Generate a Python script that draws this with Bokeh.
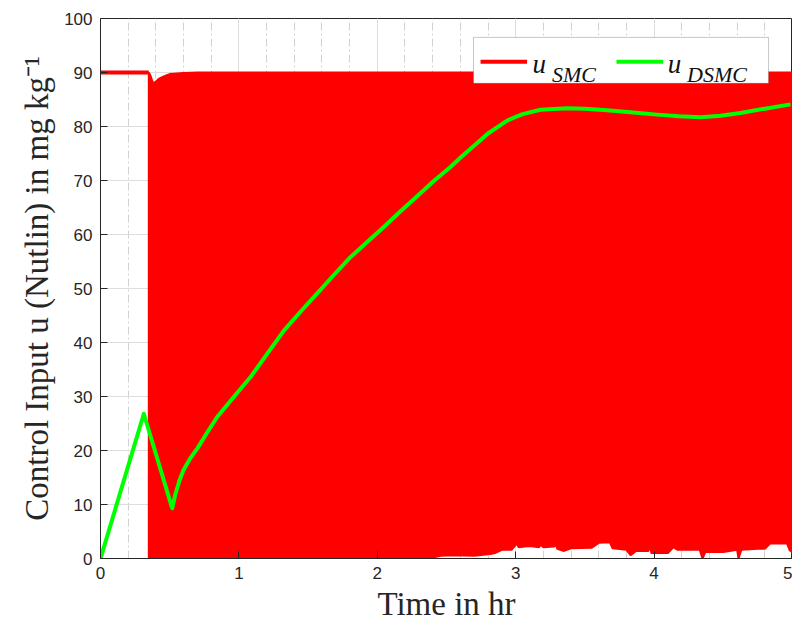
import numpy as np
from bokeh.plotting import figure
from bokeh.models import SingleIntervalTicker, BoxAnnotation, Label, Range1d
from bokeh.embed import file_html
from bokeh.resources import INLINE

# ---------------- data ----------------
# u_SMC: constant before switching, then chattering between lower and upper envelopes
smc_pre_t = [0.0, 0.349]
smc_pre_u = [90.0, 90.0]

smc_up_t = [0.349, 0.36, 0.38, 0.40, 0.42, 0.45, 0.47, 0.50, 0.60, 0.70, 5.0]
smc_up_u = [90.0, 89.5, 88.0, 88.3, 88.8, 89.2, 89.4, 89.7, 89.9, 90.0, 90.0]

smc_low_t = [0.349, 0.70, 1.00, 1.50, 2.00, 2.20, 2.40, 2.46,
             2.55, 2.70, 2.80, 2.806, 2.81, 2.85, 2.90, 2.97, 3.01, 3.02, 3.10,
             3.17, 3.18, 3.20, 3.28, 3.29, 3.30, 3.35, 3.40, 3.55, 3.60, 3.68,
             3.70, 3.80, 3.83, 3.87, 3.96, 3.97, 3.98, 4.10, 4.14, 4.17, 4.33,
             4.35, 4.37, 4.50, 4.60, 4.61, 4.63, 4.75, 4.80, 4.84, 4.96, 4.98, 5.0]
smc_low_u = [0.0, 0.0, 0.0, 0.0, 0.0, 0.1, 0.2, 0.5,
             0.6, 0.5, 0.8, 1.3, 0.8, 1.0, 1.6, 1.6, 2.8, 2.1, 2.3,
             2.1, 2.6, 2.1, 2.2, 2.9, 1.8, 1.4, 1.9, 2.0, 2.9, 3.0,
             1.9, 1.6, 0.6, 1.4, 1.4, 2.8, 1.0, 1.0, 2.1, 1.6, 1.6,
             0.0, 1.2, 1.2, 1.6, 0.0, 1.6, 1.8, 1.8, 2.8, 2.8, 1.5, 1.2]

# u_DSMC
dsmc_t = [0.0, 0.313, 0.518, 0.54, 0.57, 0.60, 0.65, 0.70, 0.77, 0.843, 0.963,
          1.084, 1.204, 1.325, 1.445, 1.566, 1.686, 1.806, 1.927, 2.047, 2.168,
          2.288, 2.408, 2.529, 2.60, 2.697, 2.80, 2.938, 3.05, 3.179, 3.372,
          3.50, 3.661, 3.85, 4.022, 4.18, 4.335, 4.48, 4.624, 4.80, 4.986]
dsmc_u = [0.0, 26.8, 9.3, 11.8, 14.4, 16.4, 18.6, 20.4, 23.3, 26.2, 29.9,
          33.6, 37.9, 42.2, 45.7, 49.1, 52.5, 55.8, 58.6, 61.4, 64.3,
          67.1, 69.9, 72.5, 74.2, 76.4, 78.7, 81.1, 82.3, 83.1, 83.4,
          83.3, 83.0, 82.6, 82.2, 81.9, 81.7, 82.0, 82.5, 83.3, 84.1]

x_ticks_interval = 1
y_ticks_interval = 10

RED = "#ff0000"
GREEN = "#00ff00"
AX = "#262626"

p = figure(frame_width=692, frame_height=540,
           min_border_left=100, min_border_right=0, min_border_top=18, min_border_bottom=62,
           x_range=Range1d(0, 5), y_range=Range1d(0, 100),
           output_backend="svg", toolbar_location=None,
           background_fill_color="white", border_fill_color="white")

p.outline_line_color = AX
p.outline_line_width = 1

xt = SingleIntervalTicker(interval=x_ticks_interval, num_minor_ticks=5)
yt = SingleIntervalTicker(interval=y_ticks_interval, num_minor_ticks=0)
p.xaxis.ticker = xt
p.yaxis.ticker = yt
p.xgrid.ticker = xt
p.ygrid.ticker = yt

for g in (p.xgrid, p.ygrid):
    g.grid_line_color = "#dedede"
    g.grid_line_width = 1
p.xgrid.minor_grid_line_color = "#d2d2d2"
p.xgrid.minor_grid_line_dash = "8 3 2 3"
p.xgrid.minor_grid_line_width = 1

for ax in (p.xaxis, p.yaxis):
    ax.axis_line_color = AX
    ax.major_tick_line_color = AX
    ax.major_tick_in = 7
    ax.major_tick_out = 0
    ax.minor_tick_in = 0
    ax.minor_tick_out = 0
    ax.major_label_text_font = "Liberation Sans"
    ax.major_label_text_font_size = "17px"
    ax.major_label_text_color = AX
    ax.axis_label_text_font = "Liberation Serif"
    ax.axis_label_text_font_style = "normal"
    ax.axis_label_text_font_size = "33px"
    ax.axis_label_text_color = AX

p.xaxis.major_label_standoff = 8
p.yaxis.major_label_standoff = 8
p.xaxis.axis_label = "Time in hr"
p.yaxis.axis_label = "Control Input u (Nutlin) in mg kg\u207b\u00b9"
p.xaxis.axis_label_standoff = 4
p.yaxis.axis_label_standoff = 6

# SMC chattering band
band_x = list(smc_up_t) + list(smc_low_t[::-1])
band_y = list(smc_up_u) + list(smc_low_u[::-1])
p.patch(band_x, band_y, fill_color=RED, line_color=RED, line_width=2)
p.line(smc_pre_t, smc_pre_u, line_color=RED, line_width=4)

# DSMC
p.line(dsmc_t, dsmc_u, line_color=GREEN, line_width=4, line_join="round")

# ---------------- legend (manual, to allow subscripts) ----------------
box = BoxAnnotation(left=2.695, right=4.827, bottom=88.0, top=96.5,
                    fill_color="white", fill_alpha=1.0,
                    line_color="#444444", line_width=1)
p.add_layout(box)
p.segment(x0=[2.746], y0=[92.0], x1=[3.082], y1=[92.0], line_color=RED,
          line_width=4, level="overlay")
p.segment(x0=[3.728], y0=[92.0], x1=[4.066], y1=[92.0], line_color=GREEN,
          line_width=4, level="overlay")

def lab(x, y, text, size):
    l = Label(x=x, y=y, text=text, text_font="Liberation Serif",
              text_font_style="italic", text_font_size=size,
              text_color="#111111", text_baseline="alphabetic",
              text_align="left", level="overlay")
    p.add_layout(l)

lab(3.122, 91.5, "u", "27px")
lab(3.262, 89.7, "SMC", "22px")
lab(4.098, 91.5, "u", "27px")
lab(4.238, 89.7, "DSMC", "22px")

open("out.html", "w").write(file_html(p, INLINE))
